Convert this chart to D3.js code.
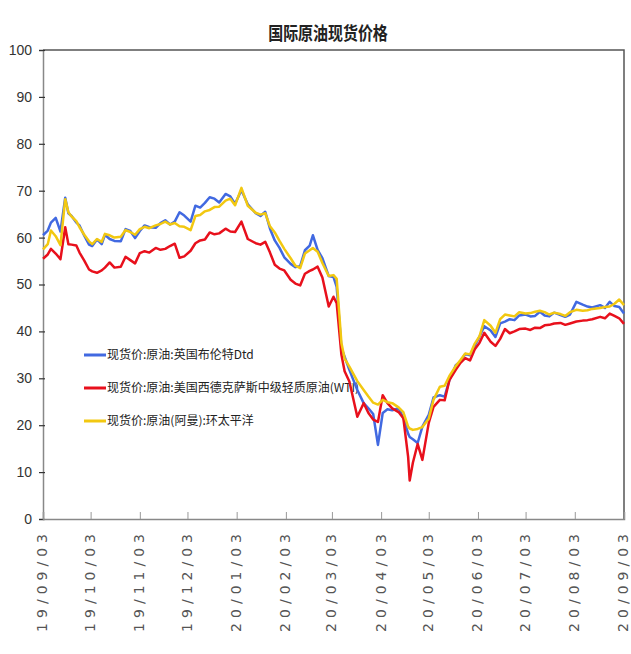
<!DOCTYPE html>
<html>
<head>
<meta charset="utf-8">
<script src="https://cdn.jsdelivr.net/npm/d3@7"></script>
<style>
  html, body { margin: 0; padding: 0; background: #fff; }
  svg { display: block; }
</style>
</head>
<body>
<svg id="chart" width="631" height="654"></svg>
<script>
// Spot crude prices, Sep 2019 - Sep 2020 (USD/barrel)
const dates = [
  "2019-09-03","2019-09-06","2019-09-08","2019-09-11","2019-09-14","2019-09-17","2019-09-19","2019-09-21","2019-09-24","2019-09-26",
  "2019-09-29","2019-10-02","2019-10-04","2019-10-07","2019-10-10","2019-10-12","2019-10-15","2019-10-18","2019-10-22","2019-10-25",
  "2019-10-28","2019-10-31","2019-11-03","2019-11-06","2019-11-09","2019-11-13","2019-11-16","2019-11-19","2019-11-22","2019-11-25",
  "2019-11-28","2019-12-01","2019-12-05","2019-12-08","2019-12-11","2019-12-14","2019-12-17","2019-12-20","2019-12-23","2019-12-27",
  "2019-12-30","2020-01-02","2020-01-06","2020-01-10","2020-01-15","2020-01-18","2020-01-21","2020-01-24","2020-01-27","2020-01-30",
  "2020-02-02","2020-02-06","2020-02-09","2020-02-12","2020-02-15","2020-02-18","2020-02-20","2020-02-23","2020-02-26","2020-03-01",
  "2020-03-04","2020-03-06","2020-03-09","2020-03-11","2020-03-14","2020-03-19","2020-03-23","2020-03-26","2020-03-29","2020-04-01",
  "2020-04-04","2020-04-07","2020-04-10","2020-04-14","2020-04-17","2020-04-20","2020-04-21","2020-04-23","2020-04-26","2020-04-29",
  "2020-05-03","2020-05-06","2020-05-10","2020-05-13","2020-05-16","2020-05-20","2020-05-23","2020-05-26","2020-05-29","2020-06-01",
  "2020-06-04","2020-06-07","2020-06-11","2020-06-14","2020-06-17","2020-06-20","2020-06-23","2020-06-26","2020-06-29","2020-07-03",
  "2020-07-06","2020-07-09","2020-07-12","2020-07-15","2020-07-18","2020-07-21","2020-07-25","2020-07-28","2020-07-31","2020-08-04",
  "2020-08-08","2020-08-11","2020-08-14","2020-08-19","2020-08-22","2020-08-25","2020-08-28","2020-08-31","2020-09-03"
];

const brent = [
  60.5,61.5,63.2,64.2,61.3,68.5,65.2,64.6,63.2,62.6,
  60.4,58.5,58.2,59.6,58.6,60.6,59.7,59.3,59.2,61.8,
  61.4,59.9,61.4,62.6,62.2,62.1,63.1,63.7,62.8,63.4,
  65.4,64.7,63.4,66.8,66.4,67.4,68.6,68.3,67.5,69.3,
  68.8,67.2,70.1,67.1,65.2,64.6,65.5,61.9,59.4,57.8,
  55.8,54.4,53.7,53.9,57.3,58.3,60.5,57.4,55.6,51.8,
  51.6,49.5,36.5,34.6,31.8,27.5,24.7,23.6,22.4,15.8,
  22.6,23.4,23.2,23.6,21.6,18.2,17.5,17.0,16.2,19.7,
  22.2,25.9,26.4,26.1,29.6,32.8,33.6,35.2,34.9,37.0,
  38.9,41.1,40.2,38.8,41.7,42.1,42.6,42.4,43.4,43.6,
  43.2,43.3,44.2,43.4,43.2,44.0,43.5,43.1,43.6,46.3,
  45.7,45.3,45.1,45.6,45.0,46.3,45.4,45.2,43.8
];

const wti = [
  55.5,56.4,57.6,56.6,55.4,62.2,58.6,58.5,58.3,56.8,
  55.1,53.2,52.8,52.5,53.0,53.6,54.7,53.6,53.8,55.9,
  55.2,54.5,56.7,57.1,56.8,57.8,57.4,57.6,58.2,58.7,
  55.7,56.0,57.2,58.8,59.4,59.6,61.1,60.7,60.9,61.9,
  61.3,61.2,63.4,59.7,58.8,58.5,59.1,56.8,54.2,53.4,
  53.0,51.0,50.2,49.8,52.3,52.9,53.2,53.8,51.5,45.3,
  47.4,46.0,35.0,31.5,29.3,21.8,24.7,22.6,21.2,20.7,
  26.4,24.7,23.6,22.8,21.5,13.3,8.2,12.0,16.0,12.6,
  20.5,23.9,25.4,25.3,29.6,31.8,33.3,34.3,33.8,36.2,
  37.6,39.7,37.8,36.9,38.4,40.5,39.6,40.0,40.5,40.6,
  40.3,40.8,40.7,41.3,41.4,41.7,41.8,41.4,41.7,42.1,
  42.3,42.4,42.6,43.1,42.8,43.8,43.3,42.8,41.6
];

const oman = [
  57.5,58.6,61.5,60.3,58.4,68.2,65.4,64.5,63.5,62.2,
  60.6,59.2,58.6,59.7,59.1,60.8,60.5,60.0,60.2,61.6,
  61.2,60.6,61.8,62.3,62.0,62.6,62.9,63.4,62.8,63.1,
  62.4,62.3,61.6,64.6,64.8,65.6,65.9,66.5,66.6,67.9,
  68.3,66.9,70.6,66.8,65.3,64.9,65.2,62.4,61.1,59.3,
  57.6,55.6,54.0,53.5,56.6,57.3,57.8,57.0,54.6,51.8,
  52.0,51.2,37.5,34.2,32.5,29.4,27.5,26.1,24.8,24.4,
  25.4,24.9,24.7,23.8,22.8,19.7,19.3,19.0,19.2,19.6,
  21.4,25.4,28.2,28.4,30.5,32.6,33.9,35.3,35.1,37.4,
  39.0,42.4,41.2,39.7,42.6,43.6,43.4,43.2,44.1,43.8,
  43.9,44.2,44.4,44.1,43.6,44.0,43.7,43.3,44.1,44.6,
  44.4,44.5,44.8,45.0,45.2,45.3,45.9,46.8,45.6
];

const seriesNames = [
  "现货价:原油:英国布伦特Dtd",
  "现货价:原油:美国西德克萨斯中级轻质原油(WTI)",
  "现货价:原油(阿曼):环太平洋"
];
const seriesColors = ["#4169e1", "#e8101c", "#f2c811"];
const yTicks = [0, 10, 20, 30, 40, 50, 60, 70, 80, 90, 100];
const xTickDates = [
  "2019-09-03","2019-10-03","2019-11-03","2019-12-03","2020-01-03","2020-02-03","2020-03-03",
  "2020-04-03","2020-05-03","2020-06-03","2020-07-03","2020-08-03","2020-09-03"
];
const titleText = "国际原油现货价格";

const parse = d3.timeParse("%Y-%m-%d");
const svg = d3.select("#chart");
const plot = { left: 43, right: 624, top: 50, bottom: 519 };

const x = d3.scaleTime()
  .domain([parse(xTickDates[0]), parse(xTickDates[xTickDates.length - 1])])
  .range([plot.left, plot.right]);
const y = d3.scaleLinear().domain([0, 100]).range([plot.bottom, plot.top]);

// title
svg.append("text")
  .attr("transform", "translate(328,40) scale(0.88,1.1)")
  .attr("text-anchor", "middle")
  .attr("font-family", "'Noto Sans CJK SC', sans-serif")
  .attr("font-size", 17)
  .attr("font-weight", "bold")
  .attr("fill", "#222")
  .text(titleText);

// frame (top and right edges)
svg.append("path")
  .attr("d", `M${plot.left},${plot.top}H${plot.right}V${plot.bottom}`)
  .attr("fill", "none")
  .attr("stroke", "#555")
  .attr("stroke-width", 1.5);

// y axis
const yAxis = svg.append("g")
  .attr("transform", `translate(${plot.left},0)`)
  .call(d3.axisLeft(y).tickValues(yTicks).tickSize(4).tickPadding(7));
yAxis.select(".domain").attr("stroke", "#888").attr("stroke-width", 1.5);
yAxis.selectAll(".tick line").attr("x1", 2).attr("stroke", "#333").attr("stroke-width", 1.2);
yAxis.selectAll(".tick text")
  .attr("font-family", "'Liberation Sans Narrow', 'Liberation Sans', sans-serif")
  .attr("font-size", 14)
  .attr("fill", "#333");

// x axis
const xAxis = svg.append("g")
  .attr("transform", `translate(0,${plot.bottom})`)
  .call(d3.axisBottom(x)
    .tickValues(xTickDates.map(parse))
    .tickSize(-7)
    .tickFormat(d3.timeFormat("%y/%m/%d")));
xAxis.select(".domain").attr("stroke", "#888").attr("stroke-width", 1.5);
xAxis.selectAll(".tick line").attr("stroke", "#999");
xAxis.selectAll(".tick text")
  .attr("font-family", "'DejaVu Sans', sans-serif")
  .attr("font-size", 14)
  .attr("letter-spacing", 5)
  .attr("fill", "#555")
  .attr("text-anchor", "end")
  .attr("transform", "rotate(-90)")
  .attr("x", -10)
  .attr("y", -1)
  .attr("dy", "0.35em");

// legend
const legend = svg.append("g");
seriesNames.forEach((name, i) => {
  const ly = 355 + i * 33;
  legend.append("line")
    .attr("x1", 84).attr("x2", 106)
    .attr("y1", ly).attr("y2", ly)
    .attr("stroke", seriesColors[i]).attr("stroke-width", 3);
  legend.append("text")
    .attr("x", 107).attr("y", ly)
    .attr("dy", "0.35em")
    .attr("font-family", "'Noto Sans CJK SC', sans-serif")
    .attr("font-size", 12)
    .attr("fill", "#222")
    .text(name);
});

// series lines
const line = d3.line()
  .x((d, i) => x(parse(dates[i])))
  .y(d => y(d));

[brent, wti, oman].forEach((vals, i) => {
  svg.append("path")
    .datum(vals)
    .attr("fill", "none")
    .attr("stroke", seriesColors[i])
    .attr("stroke-width", 2.5)
    .attr("stroke-linejoin", "round")
    .attr("d", line);
});
</script>
</body>
</html>
